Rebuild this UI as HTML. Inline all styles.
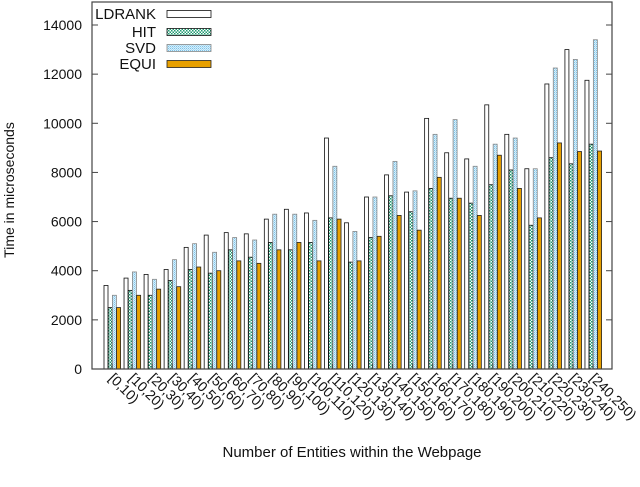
<!DOCTYPE html>
<html><head><meta charset="utf-8"><style>
body{margin:0;background:#fff;}
svg text{font-family:"Liberation Sans",sans-serif;fill:#111;}
</style></head><body>
<svg id="c" width="640" height="482" viewBox="0 0 640 482">
<defs>
<pattern id="pHit" width="3" height="3" patternUnits="userSpaceOnUse"><rect width="3" height="3" fill="#fff"/><rect width="1.5" height="1.5" fill="#1e9a70"/><rect x="1.5" y="1.5" width="1.5" height="1.5" fill="#1e9a70"/></pattern>
<pattern id="pSvd" width="2" height="2" patternUnits="userSpaceOnUse"><rect width="2" height="2" fill="#d8eefa"/><rect width="1" height="1" fill="#7cc4ea"/><rect x="1" y="1" width="1" height="1" fill="#a9dbf4"/></pattern>
</defs>
<g id="g"></g>
</svg>
<script>
const categories=["[0,10)","[10,20)","[20,30)","[30,40)","[40,50)","[50,60)","[60,70)","[70,80)","[80,90)","[90,100)","[100,110)","[110,120)","[120,130)","[130,140)","[140,150)","[150,160)","[160,170)","[170,180)","[180,190)","[190,200)","[200,210)","[210,220)","[220,230)","[230,240)","[240,250)"];
const ldrank=[3400,3700,3850,4050,4950,5450,5550,5500,6100,6500,6350,9400,5950,7000,7900,7200,10200,8800,8550,10750,9550,8150,11600,13000,11750];
const hit=[2500,3200,3000,3600,4050,3900,4850,4550,5150,4850,5150,6150,4350,5350,7050,6400,7350,6950,6750,7500,8100,5850,8600,8350,9150];
const svd=[3000,3950,3650,4450,5100,4750,5350,5250,6300,6300,6050,8250,5600,7000,8450,7250,9550,10150,8250,9150,9400,8150,12250,12600,13400];
const equi=[2500,3000,3250,3350,4150,4000,4400,4300,4850,5150,4400,6100,4400,5400,6250,5650,7800,6950,6250,8700,7350,6150,9200,8850,8870];
const yTicks=[0,2000,4000,6000,8000,10000,12000,14000];
const seriesNames=["LDRANK","HIT","SVD","EQUI"];

const NS="http://www.w3.org/2000/svg";
const g=document.getElementById('g');
const L=92,R=612,T=2,B=369;
const y=v=>B-v/14000*(B-25);
const x=i=>104+i*20.04;
function mk(t,a,txt){const e=document.createElementNS(NS,t);for(const k in a)e.setAttribute(k,a[k]);if(txt!=null)e.textContent=txt;g.appendChild(e);return e;}
const styles=[{fill:"#fff",stroke:"#111"},{fill:"url(#pHit)",stroke:"#111"},{fill:"url(#pSvd)",stroke:"#888"},{fill:"#e8a000",stroke:"#222"}];
const series=[ldrank,hit,svd,equi];
series.forEach((s,k)=>{s.forEach((v,i)=>{
 const r=mk('rect',{x:x(i)+k*4.2,y:y(v),width:4,height:B-y(v),fill:styles[k].fill,stroke:styles[k].stroke,'stroke-width':0.8});
 
 
});});
const fr=mk('rect',{x:L,y:T,width:R-L,height:B-T,fill:'none',stroke:'#444','stroke-width':1.2});


yTicks.forEach(v=>{
 mk('line',{x1:L,x2:L+6,y1:y(v),y2:y(v),stroke:'#444'});
 mk('line',{x1:R-6,x2:R,y1:y(v),y2:y(v),stroke:'#444'});
 const t=mk('text',{x:L-10,y:y(v)+5,'text-anchor':'end','font-size':14},v);
 
 
});
categories.forEach((c,i)=>{
 const cx=x(i)+8;
 mk('line',{x1:cx,x2:cx,y1:B,y2:B-5,stroke:'#444'});
 const t=mk('text',{x:cx-4,y:B+10,'font-size':14,transform:`rotate(45 ${cx-4} ${B+10})`},c);
 
 
});
const ly=[14,32,48,64];
seriesNames.forEach((n,k)=>{
 const t=mk('text',{x:156,y:ly[k]+5,'text-anchor':'end','font-size':15},n);
 
 
 const r=mk('rect',{x:167,y:ly[k]-3.5,width:44,height:7,fill:styles[k].fill,stroke:styles[k].stroke,'stroke-width':0.8});
 
 
});
const yt=mk('text',{x:14,y:190,'text-anchor':'middle','font-size':14,transform:'rotate(-90 14 190)'},'Time in microseconds');


const xt=mk('text',{x:352,y:457,'text-anchor':'middle','font-size':15},'Number of Entities within the Webpage');


</script>
</body></html>
